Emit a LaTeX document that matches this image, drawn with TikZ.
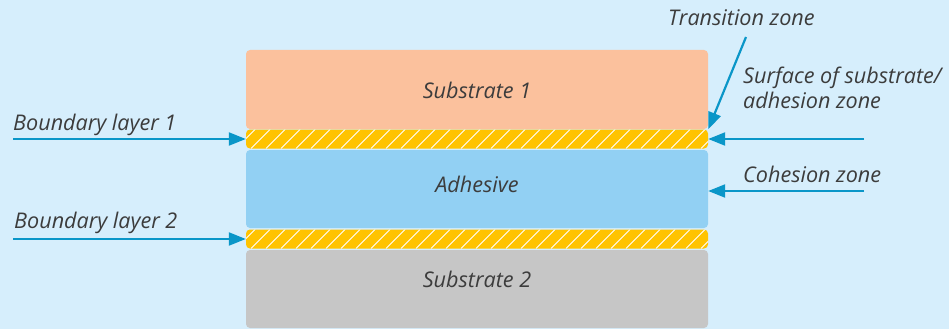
\documentclass[tikz,border=0pt]{standalone}
\usepackage{fontspec}
\setmainfont{Open Sans}
\usetikzlibrary{arrows.meta}
\definecolor{bgblue}{RGB}{214,238,252}
\definecolor{peach}{RGB}{251,193,157}
\definecolor{glue}{RGB}{146,208,243}
\definecolor{stone}{RGB}{198,198,198}
\definecolor{amber}{RGB}{255,195,0}
\definecolor{pointer}{RGB}{10,150,200}
\definecolor{ink}{RGB}{60,60,60}
\tikzset{
  tag/.style={font={\itshape\fontsize{21.6}{25}\selectfont}, text=ink, inner sep=0pt},
  layer/.style={tag, rounded corners=4pt, minimum width=462pt},
  hatch/.style={layer, fill=amber, minimum height=19pt,
    path picture={\foreach \i in {-25,-10,...,470}
      \draw[white, line width=0.9pt] ([xshift=\i pt]path picture bounding box.south west) -- ++(22pt,22pt);}},
  pointer/.style={draw=pointer, line width=2.2pt, -{Triangle[length=17pt,width=13pt]}}
}
\begin{document}
\begin{tikzpicture}[x=1pt, y=-1pt]
\useasboundingbox (0,0) rectangle (949,329);
\fill[bgblue] (0,0) rectangle (949,329);
\node[layer, fill=peach, minimum height=79pt] (sub1) at (477,89.5) {};
\node[tag] (sub1txt) at (477,90) {Substrate 1};
\node[hatch] (bl1) at (477,139) {};
\node[layer, fill=glue, minimum height=78pt] (adh) at (477,189) {};
\node[tag] (adhtxt) at (477,184) {Adhesive};
\node[hatch] (bl2) at (477,239) {};
\node[layer, fill=stone, minimum height=78pt] (sub2) at (477,289) {};
\node[tag] (sub2txt) at (477,279) {Substrate 2};
\node[tag, anchor=base west] (bl1txt) at (13,130) {Boundary layer 1};
\node[tag, anchor=base west] (bl2txt) at (14,228) {Boundary layer 2};
\node[tag, anchor=base west] (tztxt) at (668,26) {Transition zone};
\node[tag, anchor=base west, align=left] (sftxt) at (743,108) {Surface of substrate/\\adhesion zone};
\node[tag, anchor=base west] (cztxt) at (743,182) {Cohesion zone};
\coordinate (bl1tail) at (13,139);
\coordinate (bl2tail) at (13,239);
\coordinate (tztail) at (746,37);
\coordinate (sftail) at (864,139);
\coordinate (cztail) at (864,191);
\draw[pointer] (bl1tail) -- (bl1.west);
\draw[pointer] (bl2tail) -- (bl2.west);
\draw[pointer] (tztail) -- (bl1.north east);
\draw[pointer] (sftail) -- (bl1.east);
\draw[pointer] (cztail) -- (cztail -| adh.east);
\end{tikzpicture}
\end{document}
